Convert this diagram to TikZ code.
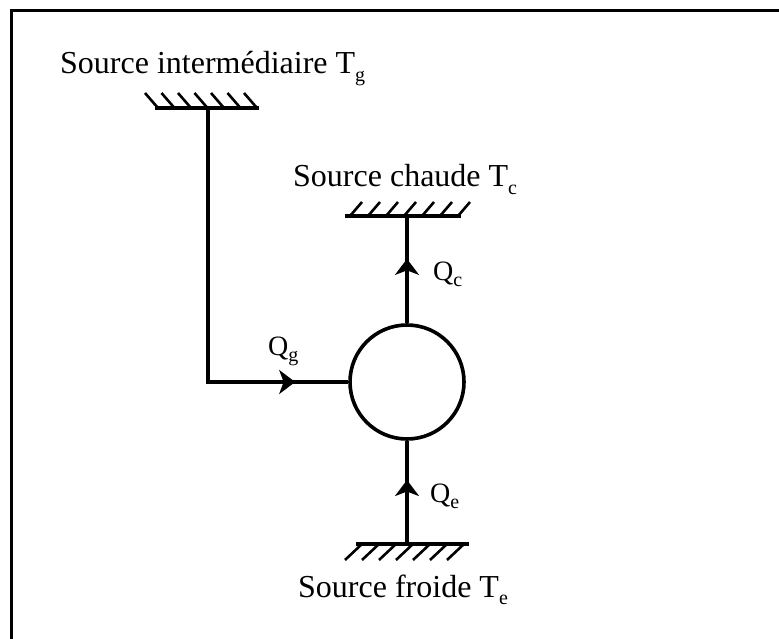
\documentclass[tikz,border=0pt]{standalone}
\usepackage{fontspec}
\setmainfont{Liberation Serif}
\usetikzlibrary{arrows.meta,decorations.markings}
\newcommand\sbs[1]{\raisebox{-0.22em}{\fontsize{20}{20}\selectfont #1}}
\tikzset{
  ln/.style={line width=3.6pt},
  hatch/.style={line width=2.6pt},
  lbl/.style={anchor=base west, inner sep=0pt, font=\fontsize{32}{36}\selectfont},
  qlbl/.style={anchor=base west, inner sep=0pt, font=\fontsize{28}{32}\selectfont},
  midarrow/.style={postaction={decorate, decoration={markings,
      mark=at position #1 with {\arrow{Stealth[length=16pt,width=24pt,inset=4.5pt]}}}}}
}
\begin{document}
\begin{tikzpicture}[x=1pt,y=-1pt]
\useasboundingbox (0,0) rectangle (779,639);
% frame
\draw[line width=3pt] (11.5,639) -- (11.5,10.5) -- (779,10.5);
% machine
\node[draw, circle, ln, minimum size=114pt, inner sep=0pt] (m) at (407,382) {};
% sources
\coordinate (g) at (208,108);
\coordinate (k) at (g |- m.west);
\coordinate (c) at (407,216);
\coordinate (e) at (407,544);
% hatch bars
\draw[ln] (155,108) -- (259,108);
\foreach \i in {0,...,6} \draw[hatch] ({158+16.5*\i},108) -- ({145+16.5*\i},93);
\draw[ln] (345,216) -- (461,216);
\foreach \i in {0,...,6} \draw[hatch] ({350+18*\i},216) -- ({362+18*\i},202);
\draw[ln] (356,544) -- (469,544);
\foreach \i in {0,...,6} \draw[hatch] ({362+17*\i},544) -- ({345+17*\i},560);
% connectors
\draw[ln, midarrow=0.872] (g) -- (k) -- (m.west);
\draw[ln, midarrow=0.6] (m.north) -- (c);
\draw[ln, midarrow=0.62] (e) -- (m.south);
% labels
\node[lbl] (tg) at (60,74) {Source intermédiaire T\sbs{g}};
\node[lbl] (tc) at (293,187) {Source chaude T\sbs{c}};
\node[lbl] (te) at (298,597) {Source froide T\sbs{e}};
\node[qlbl] (qc) at (433,280) {Q\sbs{c}};
\node[qlbl] (qg) at (268,355) {Q\sbs{g}};
\node[qlbl] (qe) at (430,502) {Q\sbs{e}};
\end{tikzpicture}
\end{document}
